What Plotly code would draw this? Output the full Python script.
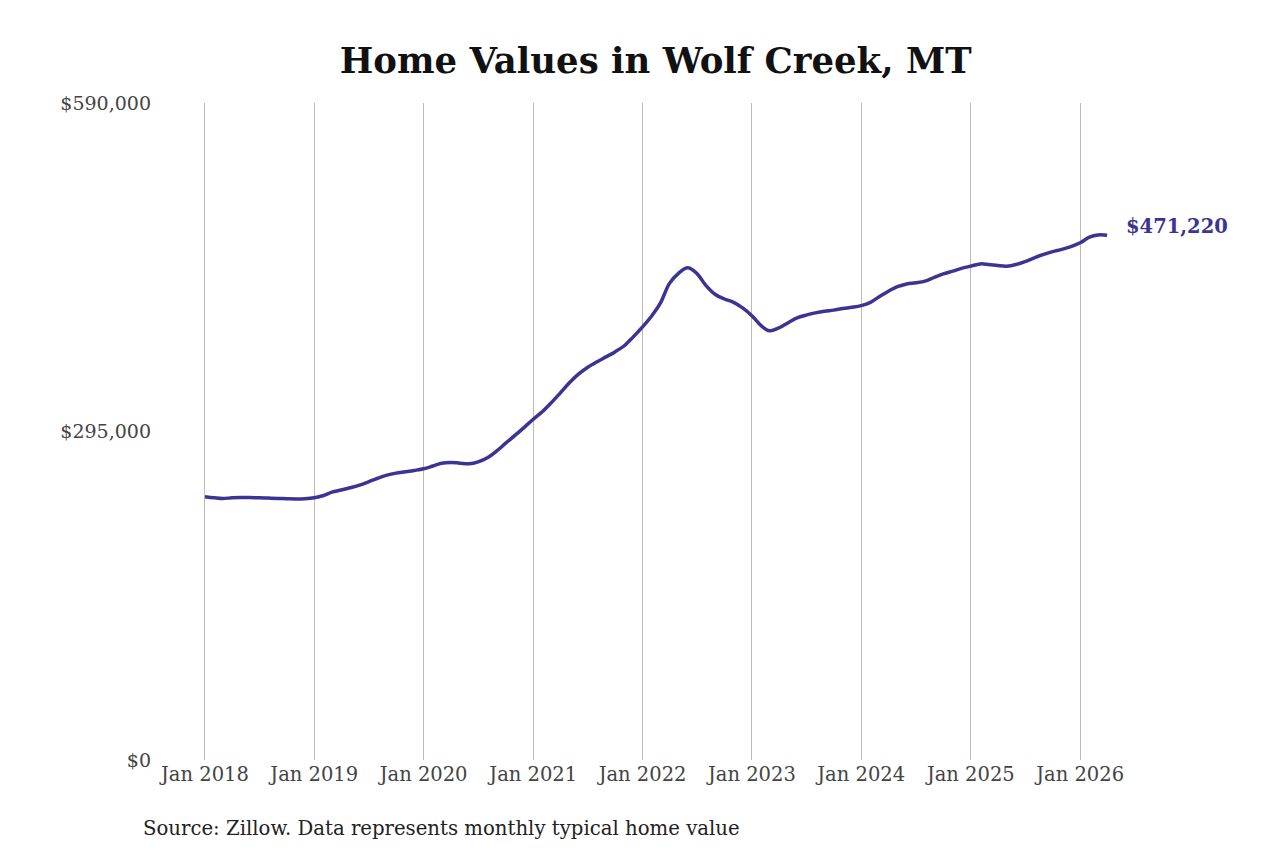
import plotly.graph_objects as go

# monthly typical home value, Jan 2018 .. Apr 2026
months = [f"{y}-{m:02d}-01" for y in range(2018, 2027) for m in range(1, 13)][:100]
values = [
    # 2018
    236500, 235500, 234800, 235500, 235800, 235700, 235500, 235200, 234900, 234600, 234400, 234600,
    # 2019
    235500, 237500, 240500, 242500, 244500, 246800, 249800, 253000, 255800, 257600, 258800, 260000,
    # 2020
    261500, 264000, 266500, 267200, 266600, 266000, 267800, 271500, 277500, 284500, 291500, 298500,
    # 2021
    306000, 313000, 320500, 329500, 338500, 346500, 352500, 357500, 362000, 366500, 372000, 380000,
    # 2022
    389000, 399000, 410000, 428000, 437000, 442000, 437000, 426000, 418000, 414000, 411000, 406000,
    # 2023
    399000, 390000, 385500, 388000, 392500, 397000, 399500, 401500, 403000, 404000, 405500, 406500,
    # 2024
    408000, 411000, 416000, 421000, 425000, 427500, 428500, 430000, 433500, 436500, 439000, 441500,
    # 2025
    443500, 445500, 445000, 444000, 443500, 445000, 447500, 451000, 454000, 456500, 458500, 461000,
    # 2026
    464500, 469500, 471500, 471220,
]

tick_vals = [f"{y}-01-01" for y in range(2018, 2027)]
tick_text = [f"Jan {y}" for y in range(2018, 2027)]
y_ticks = [0, 295000, 590000]
y_text = ["$0", "$295,000", "$590,000"]

line_color = "#3b3492"
font = "DejaVu Serif"

fig = go.Figure()
fig.add_trace(go.Scatter(x=months, y=values, mode="lines",
                         line=dict(color=line_color, width=3.5, shape="spline"),
                         hoverinfo="x+y"))

fig.add_annotation(x=months[-1], y=values[-1], text=f"<b>${values[-1]:,}</b>",
                   showarrow=False, xanchor="left", xshift=17, yshift=9,
                   font=dict(family=font, size=19.5, color=line_color))

fig.add_annotation(x=0, y=0, xref="paper", yref="paper",
                   text="Source: Zillow. Data represents monthly typical home value",
                   showarrow=False, xanchor="left", yanchor="middle",
                   xshift=-19, yshift=-68,
                   font=dict(family=font, size=19.7, color="#222222"))

fig.update_layout(
    width=1280, height=853,
    paper_bgcolor="white", plot_bgcolor="white",
    margin=dict(l=152, r=168, t=95, b=101),
    title=dict(text="<b>Home Values in Wolf Creek, MT</b>", x=0.506, xanchor="center",
               y=0.938, yanchor="middle",
               font=dict(family=font, size=35.5, color="#111111")),
    showlegend=False,
    font=dict(family=font, size=19.5, color="#444444"),
)
fig.update_xaxes(range=["2017-08-04", "2026-05-14"], tickvals=tick_vals, ticktext=tick_text,
                 showgrid=True, gridcolor="#bbbbbb", gridwidth=1, zeroline=False,
                 showline=False, ticks="", tickfont=dict(size=19.5, color="#444444"))
fig.update_yaxes(range=[0, 590000], tickvals=y_ticks, ticktext=y_text,
                 showgrid=False, zeroline=False, showline=False, ticks="",
                 ticklabelstandoff=8, tickfont=dict(size=19, color="#444444"))

fig.write_html("out.html")
